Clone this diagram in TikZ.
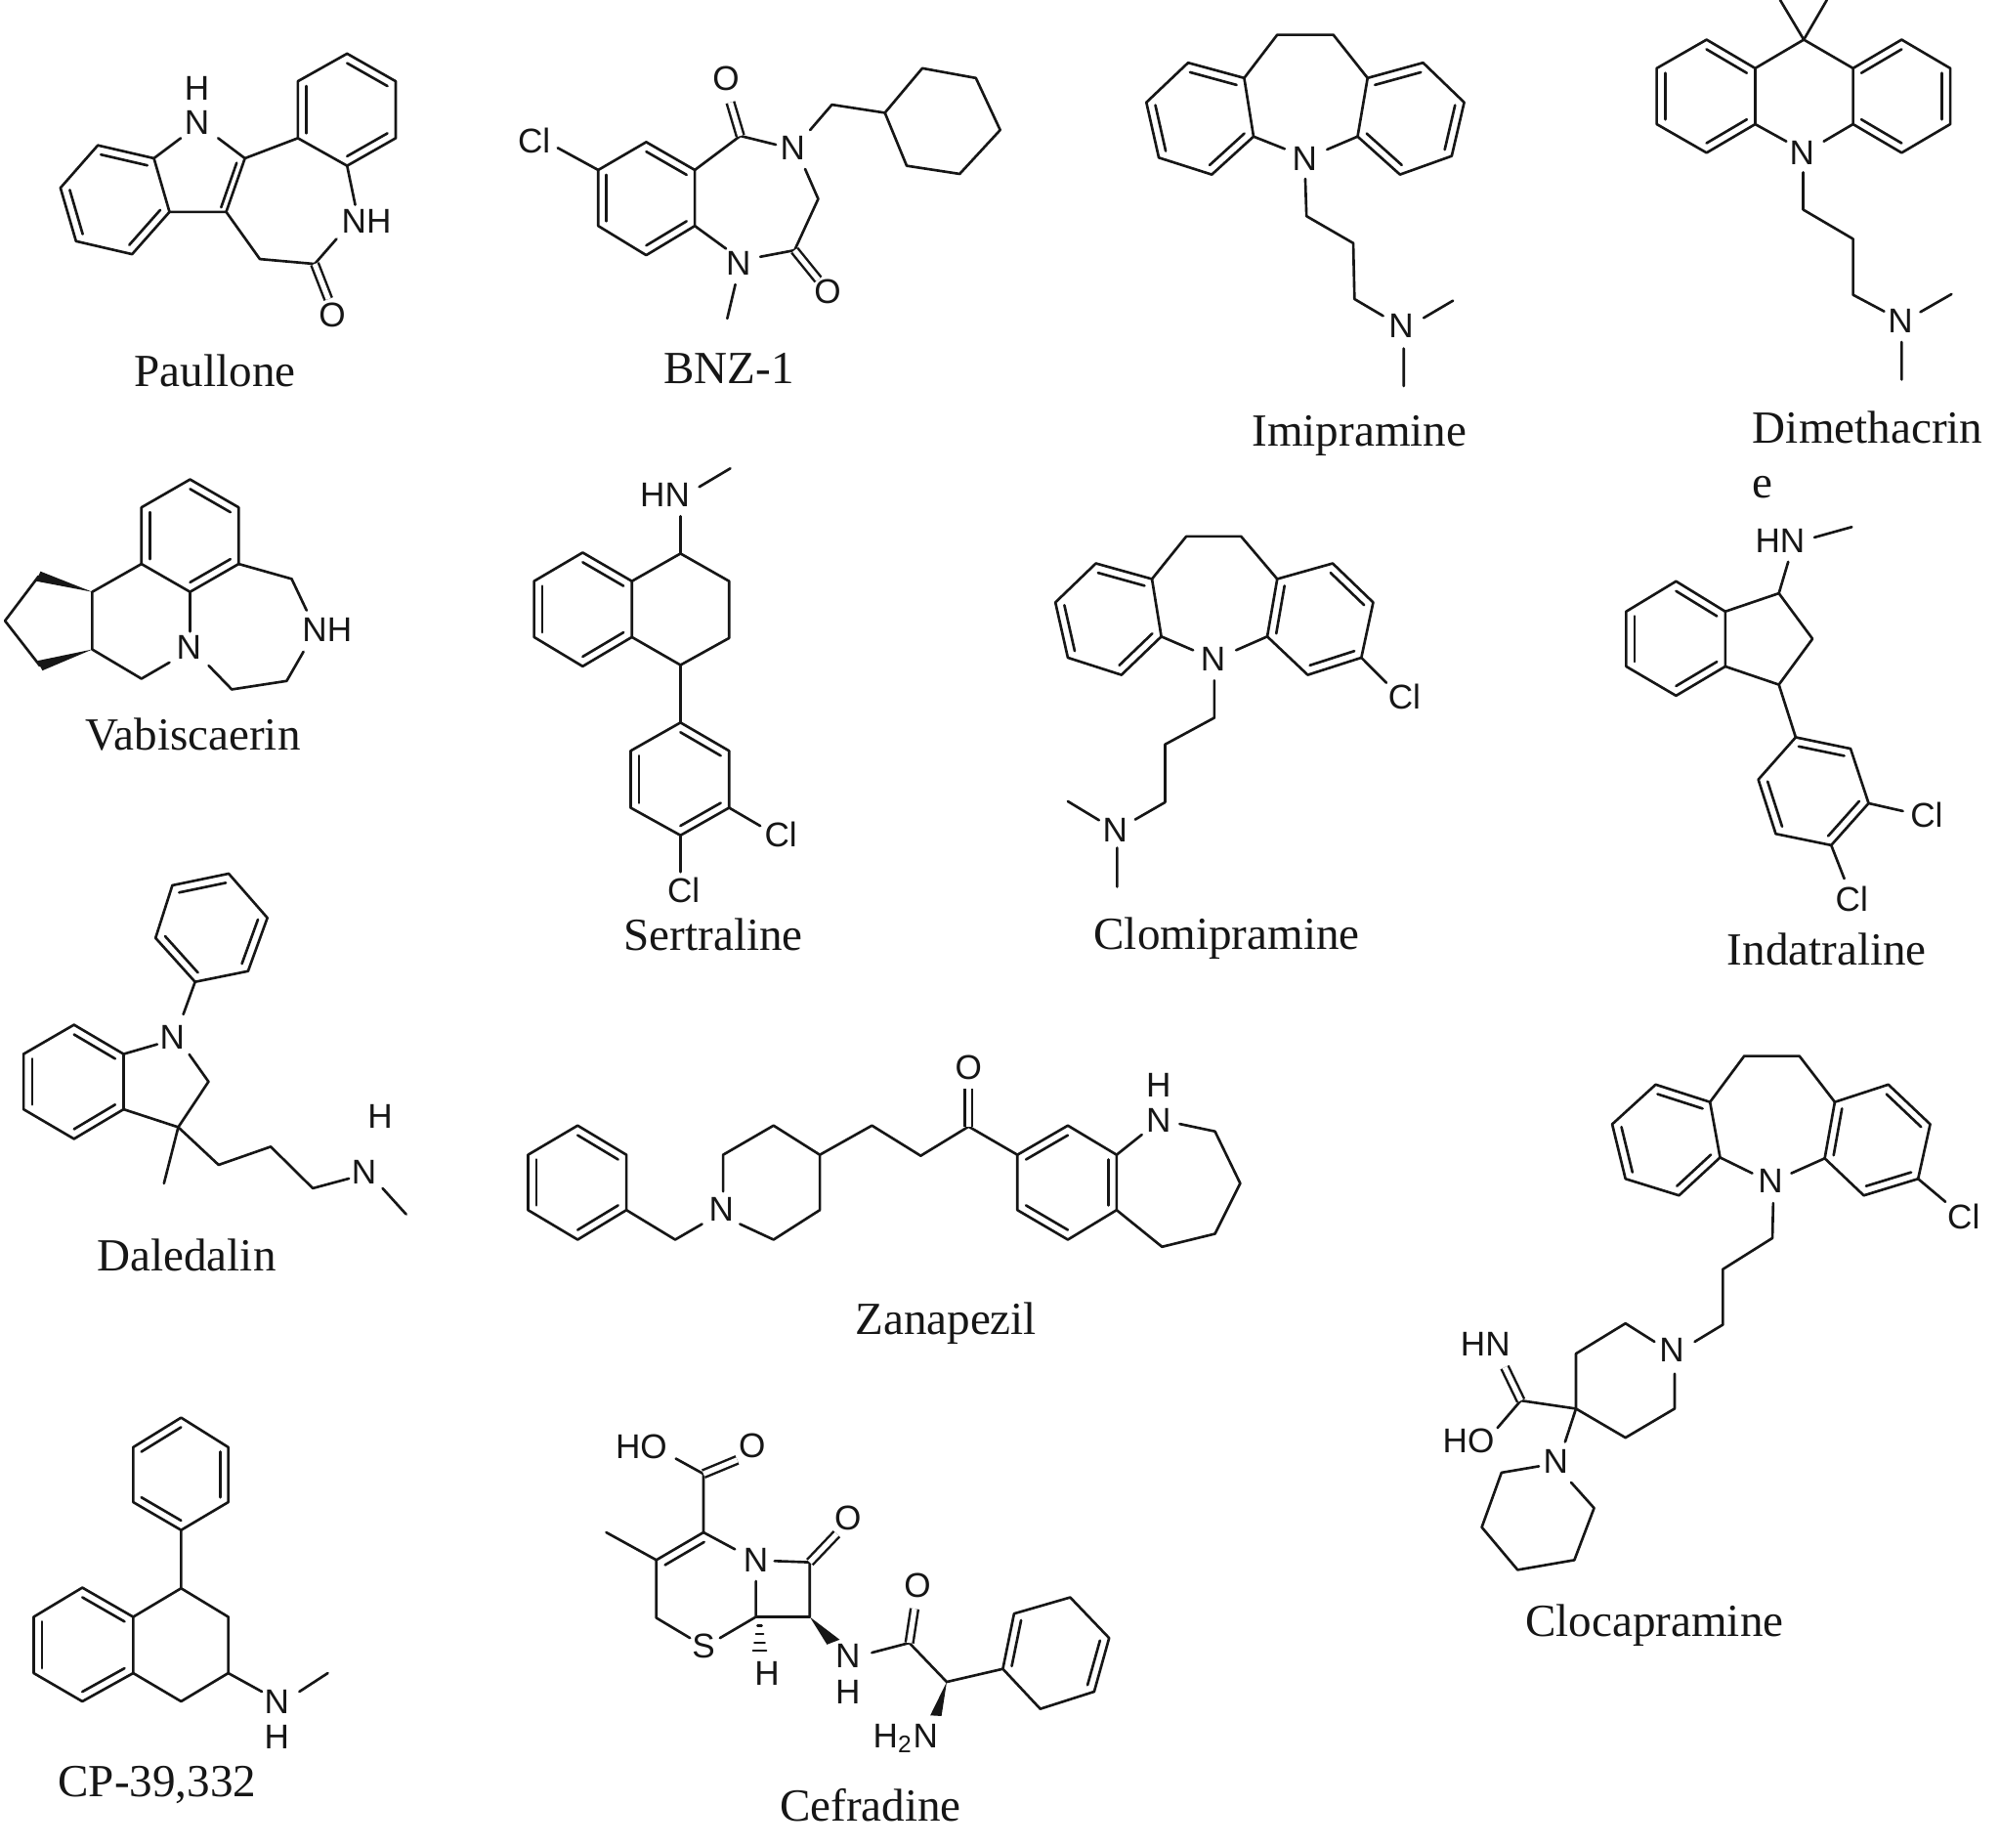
\documentclass[tikz,border=0pt]{standalone}
\usepackage{fontspec}
\setmainfont{Liberation Serif}
\newfontfamily\atomfont{Liberation Sans}
\usetikzlibrary{calc}
\definecolor{ink}{HTML}{161616}
\tikzset{
  bond/.style={draw=ink,line width=0.75pt,line join=round,line cap=round},
  dblbond/.style={draw=ink,line width=0.7pt,double=white,double distance=1.5pt,line cap=butt},
  wedge/.style={fill=ink,draw=none},
  atomlab/.style={text=ink,font=\atomfont\fontsize{10}{10}\selectfont,inner sep=0pt},
  molname/.style={text=ink,font=\fontsize{13.4}{14}\selectfont,inner sep=0pt},
  zA/.style={shift={(0cm,0cm)},x=0.006378cm,y=-0.003333cm},
  zB/.style={shift={(10.47cm,0cm)},x=0.006378cm,y=-0.003333cm},
  zC/.style={shift={(0cm,-4.5cm)},x=0.006378cm,y=-0.003333cm},
  zD/.style={shift={(10.47cm,-5cm)},x=0.006378cm,y=-0.003333cm},
  zE/.style={shift={(0cm,-8.7cm)},x=0.008613cm,y=-0.003333cm},
  zF/.style={shift={(14cm,-10.5cm)},x=0.004127cm,y=-0.00436cm},
  zG/.style={shift={(0cm,-14.2cm)},x=0.007653cm,y=-0.003333cm}
}
\newcommand{\inn}[3]{\draw[bond] ($#1!.17!#3$) -- ($#2!.17!#3$);}
% hexagon A..F with inner double lines on AB, CD, EF; G = centre
\newcommand{\hexring}[7]{\draw[bond] #1--#2--#3--#4--#5--#6--cycle;\inn{#1}{#2}{#7}\inn{#3}{#4}{#7}\inn{#5}{#6}{#7}}
\begin{document}
\begin{tikzpicture}
\useasboundingbox[fill=white] (0,0) rectangle (20.47,-18.90);

% ---------- Paullone, BNZ-1
\begin{scope}[zA]
\hexring{(157,447)}{(247,487)}{(272,652)}{(212,782)}{(122,742)}{(97,578)}{(185,615)}
\draw[bond] (247,487)--(290,425) (350,425)--(393,487)--(363,652)--(272,652);
\inn{(393,487)}{(363,652)}{(315,570)}
\node[atomlab] (pN) at (316,378) {N};
\node[atomlab] (pH) at (316,272) {H};
\hexring{(557,165)}{(635,250)}{(635,425)}{(557,510)}{(478,425)}{(478,250)}{(557,337)}
\draw[bond] (393,487)--(478,425) (557,510)--(570,630) (540,735)--(505,812)--(417,797)--(363,652);
\node[atomlab] (pNH) at (588,680) {NH};
\draw[dblbond] (505,812)--(527,920);
\node[atomlab] (pO) at (533,968) {O};
\node[molname] (nPaullone) at (345,1140) {Paullone};

\hexring{(1037,437)}{(1115,523)}{(1115,695)}{(1037,785)}{(960,695)}{(960,523)}{(1037,610)}
\node[atomlab] (bCl) at (857,433) {Cl};
\draw[bond] (895,455)--(960,523) (1115,523)--(1188,418)--(1245,445);
\draw[dblbond] (1188,418)--(1172,315);
\node[atomlab] (bO1) at (1165,242) {O};
\node[atomlab] (bN1) at (1272,455) {N};
\draw[bond] (1300,400)--(1335,322)--(1420,347);
\draw[bond] (1420,347)--(1480,210)--(1566,240)--(1605,400)--(1540,535)--(1455,510)--cycle;
\draw[bond] (1292,520)--(1313,612)--(1275,770)--(1220,790);
\draw[dblbond] (1275,770)--(1313,860);
\node[atomlab] (bO2) at (1328,897) {O};
\node[atomlab] (bN2) at (1185,810) {N};
\draw[bond] (1115,695)--(1165,765) (1180,875)--(1167,980);
\node[molname] (nBNZ) at (1170,1135) {BNZ-1};
\end{scope}

% ---------- Imipramine, Dimethacrine
\begin{scope}[zB]
\draw[bond] (355,240)--(408,107)--(498,107)--(553,240);
\hexring{(265,193)}{(355,240)}{(370,420)}{(303,537)}{(218,485)}{(198,315)}{(283,365)}
\hexring{(553,240)}{(642,193)}{(708,315)}{(688,480)}{(605,537)}{(537,420)}{(622,365)}
\node[atomlab] (iN) at (452,487) {N};
\draw[bond] (370,420)--(420,458) (537,420)--(488,460);
\draw[bond] (453,550)--(455,665)--(530,748)--(532,920)--(578,972);
\node[atomlab] (iN2) at (607,1003) {N};
\draw[bond] (643,978)--(690,925) (611,1072)--(611,1188);
\node[molname] (nImi) at (540,1340) {Imipramine};

\hexring{(1097,122)}{(1175,210)}{(1175,382)}{(1097,470)}{(1017,382)}{(1017,210)}{(1096,296)}
\hexring{(1332,210)}{(1410,122)}{(1488,210)}{(1488,382)}{(1410,470)}{(1332,382)}{(1410,296)}
\draw[bond] (1175,210)--(1253,122)--(1332,210) (1253,122)--(1215,0) (1253,122)--(1290,0);
\node[atomlab] (dN) at (1250,470) {N};
\draw[bond] (1175,382)--(1225,435) (1332,382)--(1285,435);
\draw[bond] (1252,530)--(1252,645)--(1332,735)--(1332,907)--(1382,958);
\node[atomlab] (dN2) at (1408,987) {N};
\draw[bond] (1440,960)--(1490,905) (1410,1052)--(1410,1168);
\node[molname,anchor=base west] (nDim1) at (1170,1362) {Dimethacrin};
\node[molname,anchor=base west] (nDim2) at (1170,1532) {e};
\end{scope}

% ---------- Vabiscaerin, Sertraline
\begin{scope}[zC]
\hexring{(305,122)}{(383,208)}{(383,382)}{(305,468)}{(227,382)}{(227,208)}{(305,295)}
\draw[bond] (227,382)--(148,468)--(148,645)--(227,735)--(272,685);
\fill[wedge] (148,468)--(65,405)--(58,435)--cycle;
\fill[wedge] (148,645)--(60,680)--(68,710)--cycle;
\draw[bond] (62,420)--(8,557)--(64,695);
\node[atomlab] (vN) at (303,640) {N};
\draw[bond] (305,468)--(305,590) (335,695)--(372,768)--(460,742)--(487,652);
\node[atomlab] (vNH) at (525,585) {NH};
\draw[bond] (492,525)--(468,428)--(383,382);
\node[molname] (nVab) at (310,905) {Vabiscaerin};

\node[atomlab] (sHN) at (1067,170) {HN};
\draw[bond] (1122,145)--(1172,88) (1092,235)--(1092,350);
\hexring{(935,347)}{(1014,435)}{(1014,607)}{(935,697)}{(857,607)}{(857,435)}{(935,522)}
\draw[bond] (1014,435)--(1092,350)--(1170,435)--(1170,610)--(1092,693)--(1014,607);
\draw[bond] (1092,693)--(1092,870);
\hexring{(1092,870)}{(1170,957)}{(1170,1132)}{(1092,1217)}{(1012,1132)}{(1012,957)}{(1091,1045)}
\draw[bond] (1170,1132)--(1220,1188) (1092,1217)--(1092,1330);
\node[atomlab] (sCl1) at (1253,1215) {Cl};
\node[atomlab] (sCl2) at (1097,1385) {Cl};
\node[molname] (nSer) at (1145,1521) {Sertraline};
\end{scope}

% ---------- Clomipramine, Indatraline
\begin{scope}[zD]
\draw[bond] (207,278)--(262,147)--(350,147)--(408,278);
\hexring{(117,230)}{(207,278)}{(222,455)}{(158,573)}{(72,520)}{(52,350)}{(137,400)}
\hexring{(497,230)}{(562,350)}{(543,520)}{(457,573)}{(392,455)}{(408,278)}{(477,400)}
\node[atomlab] (cN) at (305,525) {N};
\draw[bond] (222,455)--(273,497) (392,455)--(342,497) (543,520)--(583,597);
\node[atomlab] (cCl) at (612,640) {Cl};
\draw[bond] (307,590)--(307,705)--(228,787)--(228,965)--(180,1018);
\node[atomlab] (cN2) at (148,1050) {N};
\draw[bond] (122,1020)--(72,962) (151,1105)--(151,1225);
\node[molname] (nClo) at (327,1383) {Clomipramine};

\node[atomlab] (iHN) at (1215,160) {HN};
\draw[bond] (1270,150)--(1330,118) (1228,225)--(1213,322);
\hexring{(1048,285)}{(1127,378)}{(1127,547)}{(1048,637)}{(968,547)}{(968,378)}{(1048,462)}
\draw[bond] (1127,378)--(1213,322)--(1267,462)--(1213,603)--(1127,547) (1213,603)--(1240,765);
\hexring{(1240,765)}{(1328,800)}{(1357,968)}{(1297,1097)}{(1208,1062)}{(1180,895)}{(1268,930)}
\draw[bond] (1357,968)--(1412,992) (1297,1097)--(1318,1200);
\node[atomlab] (iCl1) at (1450,1005) {Cl};
\node[atomlab] (iCl2) at (1330,1262) {Cl};
\node[molname] (nInd) at (1290,1418) {Indatraline};
\end{scope}

% ---------- Daledalin, Zanapezil
\begin{scope}[zE]
\hexring{(205,108)}{(272,72)}{(318,208)}{(295,372)}{(232,405)}{(185,270)}{(252,238)}
\draw[bond] (232,405)--(218,505);
\node[atomlab] (lN) at (205,575) {N};
\hexring{(88,537)}{(147,627)}{(147,797)}{(88,888)}{(28,797)}{(28,627)}{(88,712)}
\draw[bond] (147,627)--(187,597) (225,628)--(248,712)--(212,852)--(147,797);
\draw[bond] (212,852)--(195,1025) (212,852)--(260,968)--(322,912)--(372,1040)--(415,1010);
\node[atomlab] (lN2) at (433,990) {N};
\node[atomlab] (lH) at (452,820) {H};
\draw[bond] (455,1040)--(483,1120);
\node[molname] (nDal) at (222,1245) {Daledalin};

\hexring{(687,847)}{(745,937)}{(745,1107)}{(687,1198)}{(628,1107)}{(628,937)}{(687,1022)}
\draw[bond] (745,1107)--(803,1198)--(835,1150);
\node[atomlab] (zN) at (858,1105) {N};
\draw[bond] (860,1050)--(860,937)--(920,847)--(975,937)--(975,1107)--(920,1198)--(880,1150);
\draw[bond] (975,937)--(1037,847)--(1095,940)--(1152,850)--(1210,937);
\draw[dblbond] (1152,850)--(1152,735);
\node[atomlab] (zO) at (1152,670) {O};
\hexring{(1210,937)}{(1270,847)}{(1328,937)}{(1328,1107)}{(1270,1198)}{(1210,1107)}{(1270,1022)}
\node[atomlab] (zN2) at (1378,830) {N};
\node[atomlab] (zH) at (1378,722) {H};
\draw[bond] (1328,937)--(1358,875) (1403,842)--(1445,865)--(1475,1025)--(1445,1180)--(1382,1220)--(1328,1107);
\node[molname] (nZan) at (1125,1457) {Zanapezil};
\end{scope}

% ---------- Clocapramine
\begin{scope}[zF]
\draw[bond] (850,178)--(935,70)--(1072,70)--(1160,178);
\hexring{(715,137)}{(850,178)}{(875,308)}{(773,397)}{(640,358)}{(607,230)}{(742,268)}
\hexring{(1293,137)}{(1397,230)}{(1367,358)}{(1232,397)}{(1135,310)}{(1160,178)}{(1265,268)}
\node[atomlab] (oN) at (1000,362) {N};
\draw[bond] (875,308)--(955,345) (1135,310)--(1052,345) (1367,358)--(1435,412);
\node[atomlab] (oCl) at (1480,447) {Cl};
\draw[bond] (1007,415)--(1005,497)--(882,570)--(882,700)--(812,740);
\node[atomlab] (oN2) at (755,760) {N};
\draw[bond] (712,740)--(640,697)--(517,768)--(517,897)--(640,965)--(762,897)--(762,815);
\draw[bond] (517,897)--(380,878)--(322,942);
\draw[dblbond] (380,878)--(340,800);
\node[atomlab] (oHN) at (292,745) {HN};
\node[atomlab] (oHO) at (250,972) {HO};
\draw[bond] (517,897)--(490,975);
\node[atomlab] (oN3) at (467,1020) {N};
\draw[bond] (425,1032)--(332,1047)--(283,1175)--(372,1275)--(513,1252)--(562,1130)--(505,1070);
\node[molname] (nCloc) at (712,1405) {Clocapramine};
\end{scope}

% ---------- CP-39,332, Cefradine
\begin{scope}[zG]
\hexring{(242,92)}{(178,183)}{(178,352)}{(242,438)}{(305,352)}{(305,183)}{(242,265)}
\draw[bond] (242,438)--(242,617)--(305,705)--(305,878)--(242,965)--(178,878) (242,617)--(178,705);
\hexring{(110,615)}{(178,705)}{(178,878)}{(110,965)}{(45,878)}{(45,705)}{(110,790)}
\draw[bond] (305,878)--(350,935) (400,935)--(438,878);
\node[atomlab] (gN) at (370,965) {N};
\node[atomlab] (gH) at (370,1075) {H};
\node[molname] (nCP) at (210,1222) {CP-39,332};

\node[atomlab] (fHO) at (857,182) {HO};
\node[atomlab] (fO1) at (1005,178) {O};
\draw[bond] (940,265)--(903,218) (940,265)--(940,445)--(877,530)--(877,708)--(922,770);
\draw[dblbond] (940,265)--(985,222);
\inn{(940,445)}{(877,530)}{(945,620)}
\draw[bond] (940,445)--(982,497) (810,445)--(877,530);
\node[atomlab] (fN) at (1010,530) {N};
\node[atomlab] (fS) at (940,795) {S};
\draw[bond] (962,770)--(1010,705)--(1082,705)--(1082,537)--(1035,533) (1010,595)--(1010,705);
\draw[dblbond] (1082,537)--(1118,450);
\node[atomlab] (fO2) at (1133,402) {O};
\foreach \yy/\hw in {732/3,758/5,784/7,810/9}
  \draw[bond,line width=0.6pt] (1015-\hw,\yy)--(1015+\hw,\yy);
\node[atomlab] (fH) at (1025,878) {H};
\fill[wedge] (1082,705)--(1105,790)--(1122,775)--cycle;
\node[atomlab] (fN2) at (1133,825) {N};
\node[atomlab] (fH2) at (1133,935) {H};
\draw[bond] (1165,815)--(1215,785)--(1265,905)--(1340,865);
\draw[dblbond] (1215,785)--(1222,680);
\node[atomlab] (fO3) at (1226,608) {O};
\fill[wedge] (1265,905)--(1243,1008)--(1258,1010)--cycle;
\node[atomlab] (fH2N) at (1210,1078) {H\textsubscript{2}N};
\draw[bond] (1340,865)--(1355,695)--(1430,645)--(1482,770)--(1462,935)--(1390,988)--cycle;
\inn{(1340,865)}{(1355,695)}{(1410,815)}
\inn{(1482,770)}{(1462,935)}{(1410,815)}
\node[molname] (nCef) at (1163,1285) {Cefradine};
\end{scope}
\end{tikzpicture}
\end{document}
